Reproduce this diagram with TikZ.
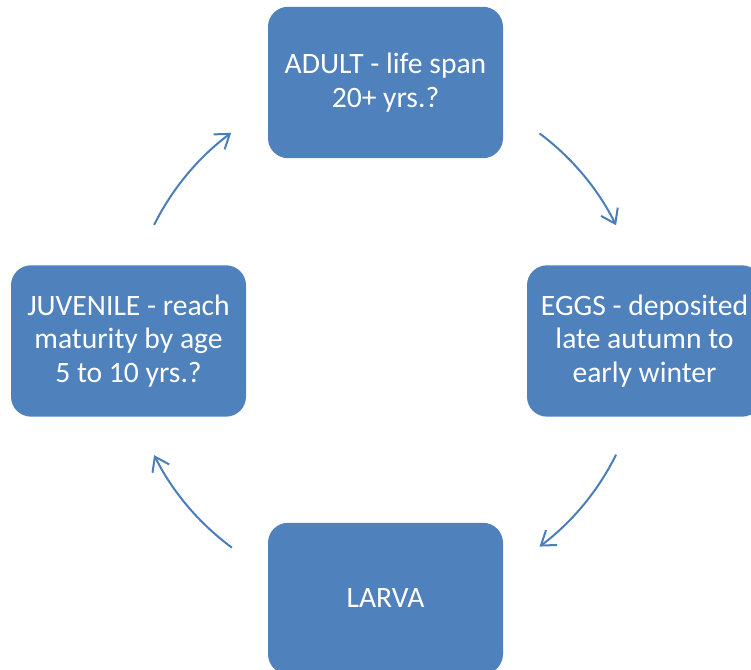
\documentclass[tikz,border=0pt]{standalone}
\usepackage{fontspec}
\setmainfont{Carlito}
\usetikzlibrary{arrows.meta}
\definecolor{boxblue}{HTML}{4F81BD}
\definecolor{arrblue}{HTML}{4A7EBB}
\tikzset{
  stage/.style={rectangle, rounded corners=15pt, fill=boxblue, draw=none,
    minimum width=176.25pt, minimum height=113.5pt, inner sep=0pt,
    text=white, align=center, font=\fontsize{22.2}{25}\selectfont},
  cyclearrow/.style={draw=arrblue, line width=1.5pt,
    -{Straight Barb[length=10pt,width=14pt,line width=1.5pt]}}
}
\begin{document}
\begin{tikzpicture}[x=0.75pt,y=0.75pt]
\useasboundingbox (0,0) rectangle (751,670);
\node[stage] (adult) at (385.5,587.5) {\raisebox{-1.5pt}{\parbox{170pt}{\centering ADULT - life span\\20+ yrs.?}}};
\node[stage] (eggs) at (644.5,329) {EGGS - deposited\\late autumn to\\early winter};
\node[stage] (juv) at (128.5,329) {JUVENILE - reach\\maturity by age\\5 to 10 yrs.?};
\node[stage] (larva) at (385.5,71.5) {LARVA};
\coordinate (c) at (385,330);
\coordinate (s1) at ([shift={(53.2:258)}]c);
\coordinate (s2) at ([shift={(-26.4:258)}]c);
\coordinate (s3) at ([shift={(-126.4:258)}]c);
\coordinate (s4) at ([shift={(153.5:258)}]c);
\draw[cyclearrow] (s1) arc[start angle=53.2, end angle=26.4, radius=258];
\draw[cyclearrow] (s2) arc[start angle=-26.4, end angle=-53.2, radius=258];
\draw[cyclearrow] (s3) arc[start angle=-126.4, end angle=-153.5, radius=258];
\draw[cyclearrow] (s4) arc[start angle=153.5, end angle=126.6, radius=258];
\end{tikzpicture}
\end{document}
